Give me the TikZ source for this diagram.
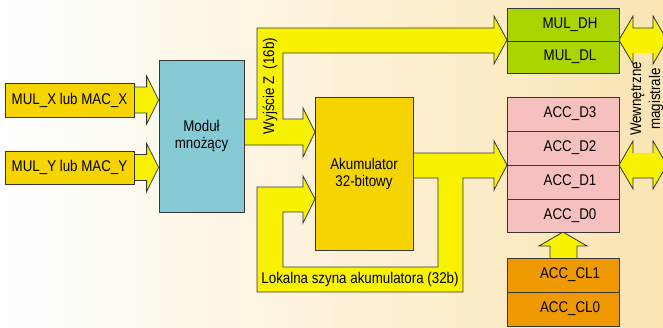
\documentclass[tikz,border=0pt]{standalone}
\usepackage{fontspec}
\setmainfont[FakeStretch=0.86]{Liberation Sans}
\usetikzlibrary{calc}
\definecolor{busY}{RGB}{248,242,0}
\definecolor{gold}{RGB}{245,212,0}
\definecolor{blueM}{RGB}{134,202,214}
\definecolor{greenM}{RGB}{170,212,0}
\definecolor{pinkA}{RGB}{245,192,190}
\definecolor{orangeA}{RGB}{238,153,0}
\definecolor{edge}{RGB}{55,55,55}
\definecolor{bgR}{RGB}{250,228,178}
\begin{document}
\begin{tikzpicture}[x=1pt,y=-1pt,
  every node/.style={font=\fontsize{15.5}{17}\selectfont},
  blk/.style={draw=edge, line width=0.8pt, inner sep=0pt, align=center},
  bus/.style={draw=edge, line width=0.8pt, fill=busY, line join=miter}]
\useasboundingbox (0,0) rectangle (663,327);
\shade[left color=white, right color=bgR] (0,0) rectangle (663,327);
% boxes (placed first so that names exist; redrawn on top below)
\path
 node[blk, fill=gold, minimum width=129pt, minimum height=34pt] (mulx) at (69.5,100) {MUL\_X lub MAC\_X}
 node[blk, fill=gold, minimum width=129pt, minimum height=33pt] (muly) at (69.5,167.5) {MUL\_Y lub MAC\_Y}
 node[blk, fill=blueM, minimum width=85pt, minimum height=152pt] (modul) at (201.5,136) {Moduł\\mnożący}
 node[blk, fill=gold, minimum width=98pt, minimum height=153pt] (akum) at (364,173.5) {Akumulator\\32-bitowy};
% input arrows
\coordinate (xt) at (mulx.east -| modul.west);
\coordinate (yt) at (muly.east -| modul.west);
\draw[bus] ($(mulx.east)+(0,-13)$) -- ($(xt)+(-12,-13)$) -- ++(0,-11) -- (xt) -- ++(-12,24) -- ++(0,-11) -- ($(mulx.east)+(0,13)$) -- cycle;
\draw[bus] ($(muly.east)+(0,-13)$) -- ($(yt)+(-12,-13)$) -- ++(0,-11) -- (yt) -- ++(-12,24) -- ++(0,-11) -- ($(muly.east)+(0,13)$) -- cycle;
% Z output bus
\draw[bus] (244,119) -- (257,119) -- (257,28) -- (494,28) -- (494,16) -- (507,40) -- (494,64) -- (494,53) -- (283,53) -- (283,119) -- (303,119) -- (303,108) -- (315,132) -- (303,157) -- (303,145) -- (244,145) -- cycle;
% accumulator loop bus
\draw[bus] (413,153) -- (494,153) -- (494,141) -- (507,165) -- (494,190) -- (494,178) -- (463,178) -- (463,292) -- (257,292) -- (257,187) -- (303,187) -- (303,176) -- (315,199) -- (303,223) -- (303,212) -- (283,212) -- (283,267) -- (438,267) -- (438,178) -- (413,178) -- cycle;
% CL -> D0 arrow
\draw[bus] (550,258) -- (550,246) -- (539,246) -- (563,232) -- (587,246) -- (577,246) -- (577,258);
% right double arrows
\fill[busY] (619,40) -- (633,16) -- (633,28) -- (653,28) -- (653,16) -- (667,40) -- (653,64) -- (653,53) -- (633,53) -- (633,64) -- cycle;
\draw[draw=edge, line width=0.8pt] (633,53) -- (633,64) -- (619,40) -- (633,16) -- (633,28) -- (653,28) -- (653,16) -- (667,40) -- (653,64) -- (653,53);
\fill[busY] (619,165) -- (633,141) -- (633,153) -- (653,153) -- (653,141) -- (667,165) -- (653,189) -- (653,178) -- (633,178) -- (633,189) -- cycle;
\draw[draw=edge, line width=0.8pt] (633,153) -- (633,141) -- (619,165) -- (633,189) -- (633,178) -- (653,178) -- (653,189) -- (667,165) -- (653,141) -- (653,153);
% boxes on top
\node[blk, fill=gold, minimum width=129pt, minimum height=34pt] at (mulx) {MUL\_X lub MAC\_X};
\node[blk, fill=gold, minimum width=129pt, minimum height=33pt] at (muly) {MUL\_Y lub MAC\_Y};
\node[blk, fill=blueM, minimum width=85pt, minimum height=152pt] at (modul) {Moduł\\mnożący};
\node[blk, fill=gold, minimum width=98pt, minimum height=153pt] at (akum) {Akumulator\\32-bitowy};
\node[blk, fill=greenM, minimum width=112pt, minimum height=33pt] (dh) at (563,24.5) {\hspace*{14pt}MUL\_DH};
\node[blk, fill=greenM, minimum width=112pt, minimum height=32pt] (dl) at (563,57) {\hspace*{14pt}MUL\_DL};
\node[blk, fill=pinkA, minimum width=112pt, minimum height=34pt] (d3) at (563,114) {\hspace*{14pt}ACC\_D3};
\node[blk, fill=pinkA, minimum width=112pt, minimum height=34pt] (d2) at (563,148) {\hspace*{14pt}ACC\_D2};
\node[blk, fill=pinkA, minimum width=112pt, minimum height=34pt] (d1) at (563,182) {\hspace*{14pt}ACC\_D1};
\node[blk, fill=pinkA, minimum width=112pt, minimum height=33pt] (d0) at (563,215.5) {\hspace*{14pt}ACC\_D0};
\node[blk, fill=orangeA, minimum width=112pt, minimum height=34pt] (cl1) at (563,275) {\hspace*{14pt}ACC\_CL1};
\node[blk, fill=orangeA, minimum width=112pt, minimum height=34pt] (cl0) at (563,309) {\hspace*{14pt}ACC\_CL0};
% labels
\node[rotate=90] (zlab) at (270,86) {Wyjście Z\ \ (16b)};
\node (lok) at (360,279) {Lokalna szyna akumulatora (32b)};
\node[rotate=90, align=center, font=\fontsize{15.5}{19}\selectfont] (wew) at (647,99) {Wewnętrzne\\magistrale};
\end{tikzpicture}
\end{document}
